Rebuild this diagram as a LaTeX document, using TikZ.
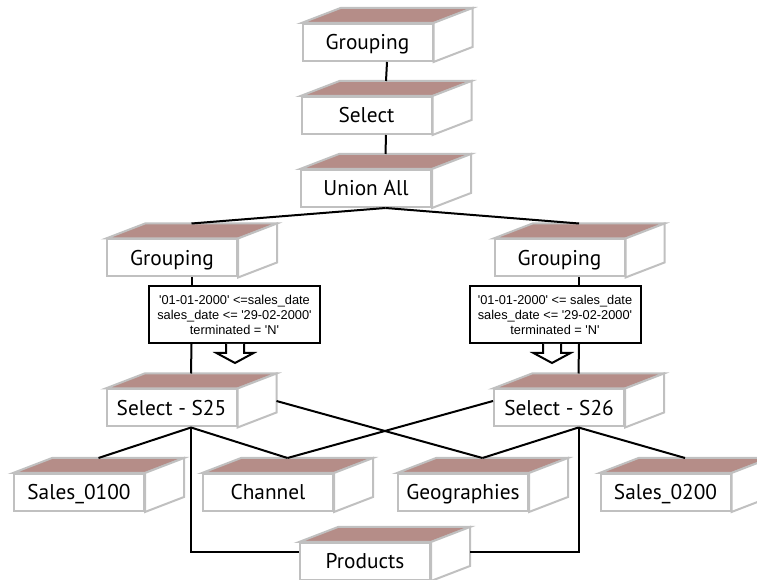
\documentclass[tikz,border=0pt]{standalone}
\usepackage{fontspec}
\setmainfont{PT Sans}
\newfontfamily\notefont{Liberation Sans}
\usetikzlibrary{calc}

\definecolor{edgegray}{RGB}{192,192,192}
\definecolor{lidbrown}{RGB}{181,141,136}
\newcommand{\sq}{\textquotesingle}

% depth offsets of the 3-D boxes
\newlength\cubedx \setlength\cubedx{29.25pt}
\newlength\cubehx \setlength\cubehx{14.625pt}
\newlength\cubedy \setlength\cubedy{11.25pt}

\tikzset{
  cube/.style={draw=edgegray, line width=1.5pt, fill=white,
    minimum width=97.5pt, minimum height=27.75pt, inner sep=0pt,
    font=\fontsize{16}{18}\selectfont, text height=11.2pt, text depth=0pt,
    append after command={\pgfextra{%
      \edef\cubenm{\tikzlastnode}%
      \filldraw[draw=edgegray, fill=lidbrown, line width=1.5pt]
        (\cubenm.north west) -- ++(\cubedx,\cubedy)
        -- ($(\cubenm.north east)+(\cubedx,\cubedy)$)
        -- (\cubenm.north east) -- cycle;
      \filldraw[draw=edgegray, fill=white, line width=1.5pt]
        (\cubenm.north east) -- ++(\cubedx,\cubedy)
        -- ($(\cubenm.south east)+(\cubedx,\cubedy)$)
        -- (\cubenm.south east) -- cycle;
      \coordinate (\cubenm-t) at ($(\cubenm.north)+(\cubehx,\cubedy)$);
      \coordinate (\cubenm-b) at ($(\cubenm.south)+(\cubehx,0pt)$);
    }}},
  note/.style={draw=black, line width=1.5pt, fill=white, align=center,
    inner sep=0pt, minimum width=128.25pt, minimum height=42.75pt,
    font=\notefont\fontsize{9.6}{11.25}\selectfont},
  conn/.style={draw=black, line width=1.5pt},
  hollow/.style={draw=black, fill=white, line width=1.5pt, line join=miter}
}

\begin{document}
\begin{tikzpicture}[x=0.75pt, y=-0.75pt]
\useasboundingbox (0,0) rectangle (757,580);

% upper chain
\node[cube] (g0)  at (367.5,42.5)  {Grouping};
\node[cube] (sel) at (366.5,115.5) {Select};
\node[cube] (u)   at (366,188.5)   {Union All};

% the two branches
\node[cube] (gl)  at (172,258)   {Grouping};
\node[cube] (gr)  at (559.5,258) {Grouping};
\node[cube] (s25) at (171.5,408) {Select - S25};
\node[cube] (s26) at (559,408)   {Select - S26};

% base tables
\node[cube] (s0100) at (79,492.5)    {Sales\_0100};
\node[cube] (ch)    at (268,492.5)   {Channel};
\node[cube] (geo)   at (463,492.5)   {Geographies};
\node[cube] (s0200) at (665.5,492.5) {Sales\_0200};
\node[cube] (prod)  at (365,561.5)   {Products};

% filter conditions
\node[note] (fl) at (234.5,314.5)
  {\sq01-01-2000\sq{} <=sales\_date\\sales\_date <= \sq29-02-2000\sq\\terminated = \sq N\sq};
\node[note] (fr) at (555,314.5)
  {\sq01-01-2000\sq{} <= sales\_date\\sales\_date <= \sq29-02-2000\sq\\terminated = \sq N\sq};

% hollow arrows under the conditions
\draw[hollow] ($(fl.south)+(-6.375pt,0pt)$) -- ++(0pt,-6.75pt) -- ++(-7.125pt,0pt)
  -- ++(13.875pt,-7.5pt) -- ++(13.875pt,7.5pt) -- ++(-7.125pt,0pt) -- ++(0pt,6.75pt);
\draw[hollow] ($(fr.south)+(-9pt,0pt)$) -- ++(0pt,-6.75pt) -- ++(-7.125pt,0pt)
  -- ++(13.875pt,-7.5pt) -- ++(13.875pt,7.5pt) -- ++(-7.125pt,0pt) -- ++(0pt,6.75pt);

% connectors
\draw[conn] (g0-b) -- (sel-t);
\draw[conn] (sel-b) -- (u-t);
\draw[conn] (u-b) -- (gl-t);
\draw[conn] (u-b) -- (gr-t);
\draw[conn] (gl-b) -- (gl-b |- fl.north);
\draw[conn] (gl-b |- fl.south) -- (s25-t);
\draw[conn] (gr-b) -- (gr-b |- fr.north);
\draw[conn] (gr-b |- fr.south) -- (s26-t);
\draw[conn] (s25-b) -- (s0100-t);
\draw[conn] (s25-b) -- (ch-t);
\draw[conn] (s25-b) |- ($(prod.west)+(0pt,6.75pt)$);
\draw[conn] ($(s25.east)+(\cubedx,5.25pt)$) -- (geo-t);
\draw[conn] ($(s26.west)+(0pt,5.25pt)$) -- (ch-t);
\draw[conn] (s26-b) -- (geo-t);
\draw[conn] (s26-b) -- (s0200-t);
\draw[conn] (s26-b) |- ($(prod.east)+(\cubedx,6.75pt)$);
\end{tikzpicture}
\end{document}
